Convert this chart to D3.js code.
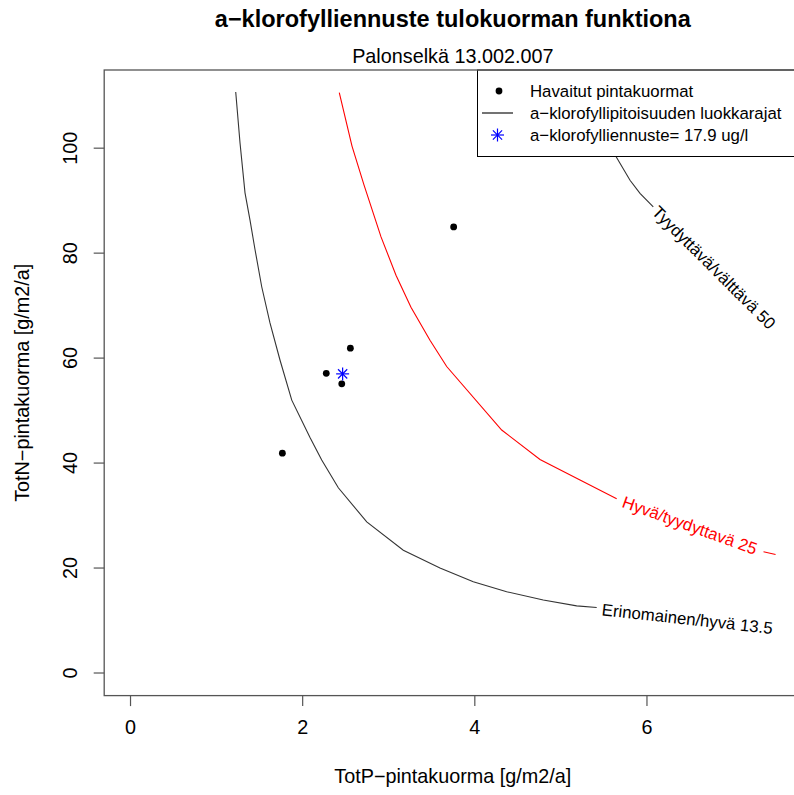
<!DOCTYPE html>
<html><head><meta charset="utf-8">
<script src="https://cdn.jsdelivr.net/npm/d3@7"></script>
<style>body{margin:0;background:#fff} svg{display:block}</style>
</head><body>
<script>
// Observed surface loads (TotP, TotN) in g/m2/a
const obsP = [1.77, 2.28, 2.46, 2.56, 3.76];
const obsN = [41.8, 57.0, 55.0, 61.8, 84.9];
// Forecast point (median loads) and forecast chlorophyll
const forecastP = 2.47;
const forecastN = 56.9;
const forecastChl = 17.9;

const xTicks = [0, 2, 4, 6];
const yTicks = [0, 20, 40, 60, 80, 100];

// Class limit contours, [TotP, TotN] vertices; each split where its label sits
const lim135Before = [[1.228,110.6],[1.278,100.9],[1.336,91.4],[1.394,86.2],[1.452,80.6],[1.530,73.5],[1.626,66.6],[1.743,59.5],[1.879,51.9],[2.091,44.8],[2.227,40.5],[2.420,35.2],[2.750,28.7],[3.175,23.3],[3.601,19.9],[3.988,17.3],[4.376,15.4],[4.801,13.8],[5.189,12.7],[5.422,12.4]];
const lim135After = [];
const lim25Before = [[2.431,110.5],[2.579,100.3],[2.718,92.9],[2.916,83.0],[3.090,75.7],[3.264,69.6],[3.485,63.3],[3.679,58.3],[4.318,46.2],[4.763,40.6],[5.228,36.7],[5.654,33.1]];
const lim25After = [[7.36,23.0],[7.5,22.5]];
const lim50Before = [[5.27,110.5],[5.45,104.0],[5.646,98.3],[5.809,93.8],[5.925,91.3],[6.079,88.7]];
const lim50After = [];

const limitNames = ["Erinomainen/hyvä 13.5", "Hyvä/tyydyttavä 25", "Tyydyttävä/välttävä 50"];
const limitLabelAt = [[6.474, 10.25], [6.503, 28.05], [6.784, 77.17]];
const limitLabelAngle = [6.3, 19.8, 45];
const limitColors = ["#000", "#ff0000", "#000"];

const legendTexts = ["Havaitut pintakuormat", "a\u2212klorofyllipitoisuuden luokkarajat", "a\u2212klorofylliennuste= " + forecastChl + " ug/l"];

const W = 794, H = 795;
const font = "'Liberation Sans', Arial, Helvetica, sans-serif";
const svg = d3.select("body").append("svg").attr("width", W).attr("height", H);
svg.append("rect").attr("width", W).attr("height", H).attr("fill", "#fff");

const box = {l: 104.2, r: 801.4, t: 70, b: 695.6};
const x = d3.scaleLinear().domain([-0.3, 7.8]).range([box.l, box.r]);
const y = d3.scaleLinear().domain([-4.4, 114.8]).range([box.b, box.t]);

const line = d3.line().x(d => x(d[0])).y(d => y(d[1]));

// contour lines
const pieces = [
  [lim135Before, 0], [lim135After, 0],
  [lim25Before, 1], [lim25After, 1],
  [lim50Before, 2], [lim50After, 2]
];
pieces.forEach(([pts, i]) => {
  if (pts.length < 2) return;
  svg.append("path").attr("d", line(pts)).attr("fill", "none")
    .attr("stroke", limitColors[i]).attr("stroke-width", 1.1)
    .attr("opacity", i === 1 ? 1 : 0.8);
});
limitNames.forEach((name, i) => {
  const cx = x(limitLabelAt[i][0]), cy = y(limitLabelAt[i][1]);
  svg.append("text").attr("transform", `translate(${cx},${cy}) rotate(${limitLabelAngle[i]})`)
    .attr("text-anchor", "middle").attr("dy", "0.35em")
    .attr("font-family", font).attr("font-size", 16.8)
    .attr("fill", limitColors[i]).text(name);
});

// observed points
svg.append("g").selectAll("circle").data(obsP).join("circle")
  .attr("cx", d => x(d)).attr("cy", (d, i) => y(obsN[i])).attr("r", 3.4).attr("fill", "#000");

// asterisk symbol
function asterisk(g, cx, cy, color) {
  const a = 6.5, b = 4.6;
  const s = g.append("g").attr("stroke", color).attr("stroke-width", 1.2);
  s.append("line").attr("x1", cx - a).attr("x2", cx + a).attr("y1", cy).attr("y2", cy);
  s.append("line").attr("x1", cx).attr("x2", cx).attr("y1", cy - a).attr("y2", cy + a);
  s.append("line").attr("x1", cx - b).attr("x2", cx + b).attr("y1", cy - b).attr("y2", cy + b);
  s.append("line").attr("x1", cx - b).attr("x2", cx + b).attr("y1", cy + b).attr("y2", cy - b);
}
asterisk(svg, x(forecastP), y(forecastN), "#0000ff");

// legend (top right, white background)
const lg = svg.append("g");
lg.append("rect").attr("x", 477.5).attr("y", box.t).attr("width", box.r - 477.5).attr("height", 86.5)
  .attr("fill", "#fff").attr("stroke", "#000").attr("stroke-width", 1);
const rowY = [91, 113, 135];
lg.append("circle").attr("cx", 499).attr("cy", rowY[0]).attr("r", 3.4).attr("fill", "#000");
lg.append("line").attr("x1", 482).attr("x2", 513).attr("y1", rowY[1]).attr("y2", rowY[1]).attr("stroke", "#000").attr("stroke-width", 1.1);
asterisk(lg, 497.5, rowY[2], "#0000ff");
legendTexts.forEach((t, i) => {
  lg.append("text").attr("x", 530).attr("y", rowY[i]).attr("dy", "0.35em")
    .attr("font-family", font).attr("font-size", 16.8).attr("fill", "#000").text(t);
});

// frame
svg.append("rect").attr("x", box.l).attr("y", box.t).attr("width", box.r - box.l).attr("height", box.b - box.t)
  .attr("fill", "none").attr("stroke", "#555").attr("stroke-width", 1.3);

// axes
const ax = svg.append("g").attr("transform", `translate(0,${box.b})`)
  .call(d3.axisBottom(x).tickValues(xTicks).tickFormat(d3.format("d")).tickSize(10.5).tickSizeOuter(0).tickPadding(14));
ax.select(".domain").remove();
ax.selectAll("line").attr("stroke", "#555").attr("stroke-width", 1.2);
ax.selectAll("text").attr("font-family", font).attr("font-size", 19.8).attr("fill", "#000");

const ay = svg.append("g").attr("transform", `translate(${box.l},0)`)
  .call(d3.axisLeft(y).tickValues(yTicks).tickFormat(d3.format("d")).tickSize(10.5).tickSizeOuter(0));
ay.select(".domain").remove();
ay.selectAll("line").attr("stroke", "#555").attr("stroke-width", 1.2);
ay.selectAll("text").attr("font-family", font).attr("font-size", 19.8).attr("fill", "#000")
  .attr("x", null).attr("dy", null).attr("text-anchor", "middle")
  .attr("transform", "translate(-34.5,0) rotate(-90)").attr("dominant-baseline", "central");

const cxMid = (box.l + box.r) / 2;
svg.append("text").attr("x", cxMid).attr("y", 783).attr("text-anchor", "middle")
  .attr("font-family", font).attr("font-size", 19.8).text("TotP\u2212pintakuorma [g/m2/a]");
svg.append("text").attr("transform", `translate(29,${(box.t + box.b) / 2}) rotate(-90)`).attr("text-anchor", "middle")
  .attr("font-family", font).attr("font-size", 19.8).text("TotN\u2212pintakuorma [g/m2/a]");

svg.append("text").attr("x", cxMid).attr("y", 26.5).attr("text-anchor", "middle")
  .attr("font-family", font).attr("font-size", 23.5).attr("font-weight", "bold")
  .text("a\u2212klorofylliennuste tulokuorman funktiona");
svg.append("text").attr("x", cxMid).attr("y", 63.3).attr("text-anchor", "middle")
  .attr("font-family", font).attr("font-size", 19.8).text("Palonselkä 13.002.007");
</script>
</body></html>
